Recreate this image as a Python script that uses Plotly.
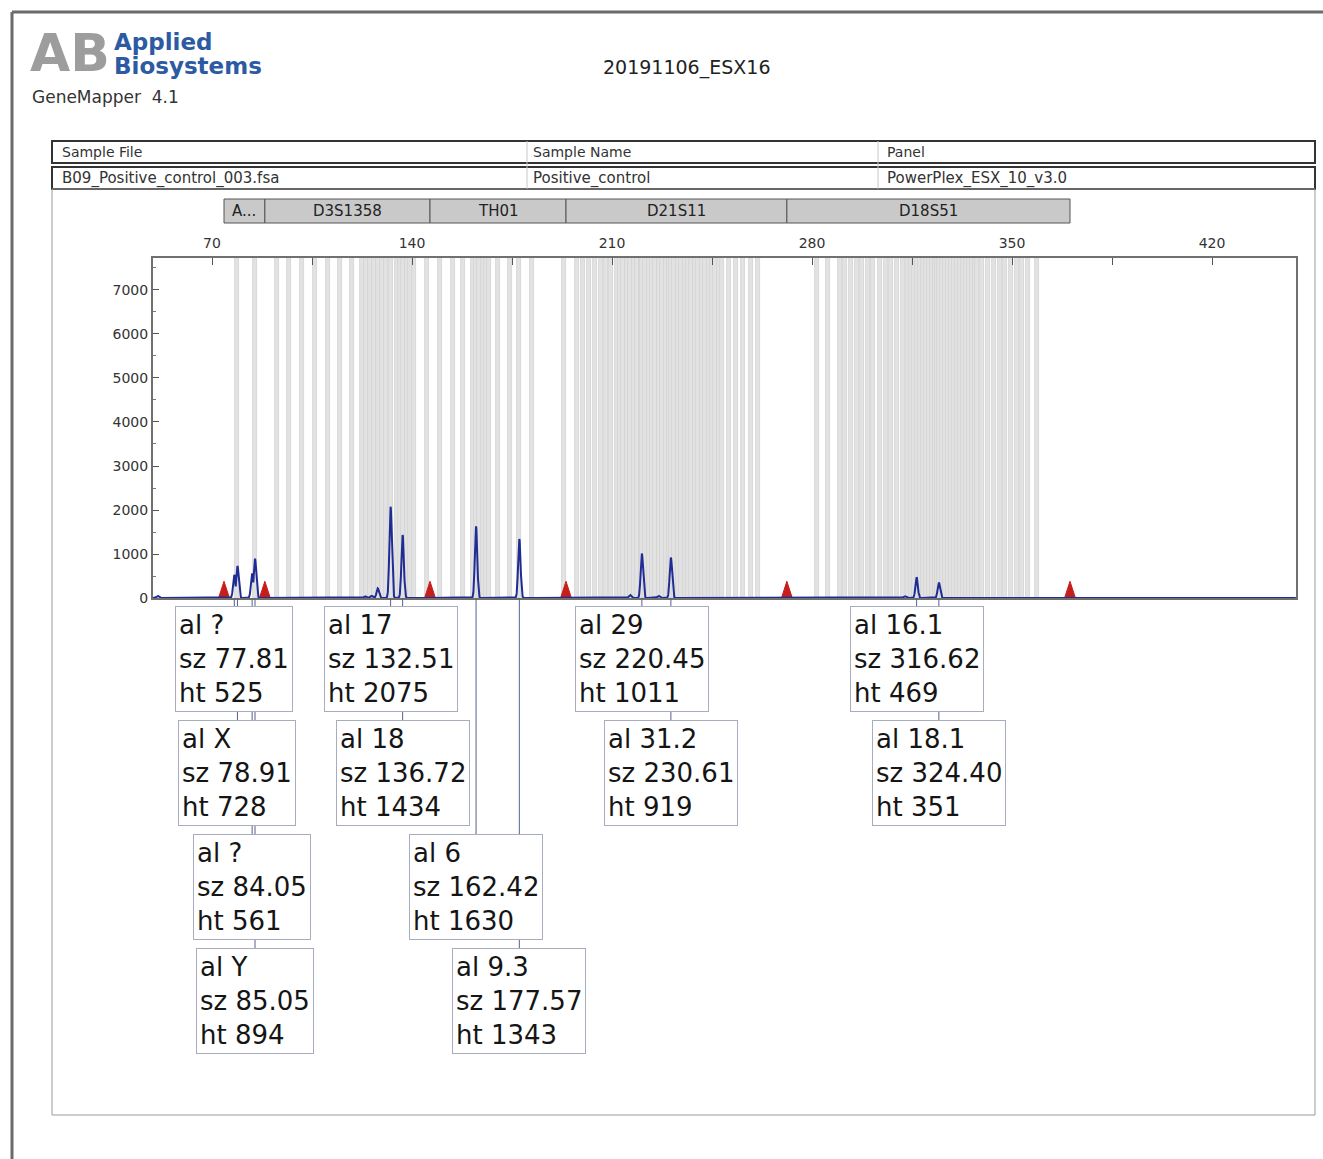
import numpy as np
import plotly.graph_objects as go

# ---------------- data ----------------
run_name = "20191106_ESX16"
app_name = "GeneMapper  4.1"
brand_line1 = "Applied"
brand_line2 = "Biosystems"
table_headers = ["Sample File", "Sample Name", "Panel"]
table_values = ["B09_Positive_control_003.fsa", "Positive_control", "PowerPlex_ESX_10_v3.0"]

loci = ["A...", "D3S1358", "TH01", "D21S11", "D18S51"]
locus_edges = [74.2, 88.5, 146.3, 193.9, 271.2, 370.3]
edge_marker_heights = [380, 380, 380, 380, 380, 380]

peak_sizes = [77.81, 78.91, 84.05, 85.05, 132.51, 136.72, 162.42, 177.57, 220.45, 230.61, 316.62, 324.40]
peak_heights = [525, 728, 561, 894, 2075, 1434, 1630, 1343, 1011, 919, 469, 351]
peak_alleles = ["?", "X", "?", "Y", "17", "18", "6", "9.3", "29", "31.2", "16.1", "18.1"]

minor_sizes = [51.0, 123.6, 125.9, 128.0, 216.3, 226.3, 312.5]
minor_heights = [50, 40, 50, 220, 70, 50, 40]

bins_amel = [78.9, 85.0]
bins_d3 = [92.6, 97.1, 101.4, 106.0, 110.5, 114.8, 118.9, 122.6, 123.9, 125.2, 126.6,
           128.0, 129.4, 130.8, 132.5, 134.6, 135.8, 136.9, 138.1, 139.4, 140.6]
bins_th01 = [145.1, 149.8, 154.5, 158.0, 161.4, 162.5, 163.6, 164.8, 165.9, 167.1,
             170.2, 174.3, 177.6, 181.9]
bins_d21 = [193.2, 197.9, 200.0, 202.0, 204.0, 206.0, 207.9, 209.8, 211.7, 212.9, 214.0,
            215.2, 216.4, 217.6, 218.8, 220.0, 220.5, 221.6, 222.8, 224.0, 225.2, 226.4,
            227.6, 228.8, 230.0, 230.6, 231.8, 233.0, 234.2, 235.4, 236.6, 237.8, 239.0,
            240.2, 241.4, 242.6, 243.8, 245.0, 246.2, 247.3, 248.6, 251.0, 253.5, 256.0,
            258.6, 261.1]
bins_d18 = [281.7, 285.7, 289.8, 291.7, 293.7, 295.6, 297.6, 299.5, 301.4, 303.8, 305.8,
            307.8, 309.9, 311.9, 313.6, 314.6, 315.7, 316.7, 317.7, 318.8, 319.8, 320.8,
            321.9, 322.9, 323.9, 324.5, 325.6, 326.6, 327.7, 328.7, 329.7, 330.8, 331.8,
            332.8, 333.9, 334.9, 335.9, 337.0, 337.8, 339.5, 341.6, 343.6, 345.7, 347.7,
            349.8, 351.8, 353.6, 355.5, 358.6]

x_tick_vals = [70, 140, 210, 280, 350, 420]
y_tick_vals = [0, 1000, 2000, 3000, 4000, 5000, 6000, 7000]

# ---------------- layout helpers ----------------
W, H = 1323, 1159
L, R, T, B = 153, 1296, 258, 598
XR = [49.35, 449.4]
YR = [0, 7727]
FONT = "DejaVu Sans"


def fx(p):
    return (p - L) / (R - L)


def fy(p):
    return (B - p) / (B - T)


fig = go.Figure()

# allele bins
all_bins = bins_amel + bins_d3 + bins_th01 + bins_d21 + bins_d18
fig.add_trace(go.Bar(
    x=all_bins, y=[YR[1]] * len(all_bins), width=1.4,
    marker=dict(color="#e2e2e2", line=dict(color="#d2d2d2", width=0.8)),
    hoverinfo="skip", showlegend=False))

# red locus edge markers
tx, ty = [], []
for e, h in zip(locus_edges, edge_marker_heights):
    tx += [e - 1.9, e, e + 1.9, None]
    ty += [0, h, 0, None]
fig.add_trace(go.Scatter(x=tx, y=ty, mode="lines", fill="toself",
                         fillcolor="#c61f1b", line=dict(color="#c61f1b", width=1),
                         hoverinfo="skip", showlegend=False))

# electropherogram trace
xs = np.arange(XR[0], XR[1], 0.05)
ys = np.zeros_like(xs)
for s, h in zip(peak_sizes + minor_sizes, peak_heights + minor_heights):
    ys = np.maximum(ys, h * np.exp(-0.5 * ((xs - s) / 0.42) ** 2))
fig.add_trace(go.Scatter(x=xs, y=ys, mode="lines",
                         line=dict(color="#1f2c94", width=2),
                         hoverinfo="skip", showlegend=False))

shapes = []
ann = []

# outer frame
shapes.append(dict(type="line", xref="paper", yref="paper", x0=fx(12), x1=fx(1323),
                   y0=fy(12), y1=fy(12), line=dict(color="#6b6b6b", width=3)))
shapes.append(dict(type="line", xref="paper", yref="paper", x0=fx(12), x1=fx(12),
                   y0=fy(12), y1=fy(1159), line=dict(color="#6b6b6b", width=3)))

# header table
for (y0, y1) in [(141, 163), (167, 189)]:
    shapes.append(dict(type="rect", xref="paper", yref="paper", x0=fx(52), x1=fx(1315),
                       y0=fy(y1), y1=fy(y0), line=dict(color="#333333", width=2)))
for xd in [527, 878]:
    shapes.append(dict(type="line", xref="paper", yref="paper", x0=fx(xd), x1=fx(xd),
                       y0=fy(189), y1=fy(141), line=dict(color="#c8c8c8", width=1)))
col_x = [60, 531, 885]
for cx, hd, val in zip(col_x, table_headers, table_values):
    ann.append(dict(xref="paper", yref="paper", x=fx(cx), y=fy(152), text=hd,
                    showarrow=False, xanchor="left", yanchor="middle",
                    font=dict(family=FONT, size=14, color="#333333")))
    ann.append(dict(xref="paper", yref="paper", x=fx(cx), y=fy(179), text=val,
                    showarrow=False, xanchor="left", yanchor="middle",
                    font=dict(family=FONT, size=15, color="#333333")))

# plot panel frame
shapes.append(dict(type="rect", xref="paper", yref="paper", x0=fx(52), x1=fx(1315),
                   y0=fy(1115), y1=fy(189), line=dict(color="#9a9a9a", width=1)))

# locus bar
for i, name in enumerate(loci):
    a, b = locus_edges[i], locus_edges[i + 1]
    shapes.append(dict(type="rect", xref="x", yref="paper", x0=a, x1=b,
                       y0=fy(223), y1=fy(199), fillcolor="#c9c9c9",
                       line=dict(color="#555555", width=1)))
    ann.append(dict(xref="x", yref="paper", x=(a + b) / 2, y=fy(211), text=name,
                    showarrow=False, xanchor="center", yanchor="middle",
                    font=dict(family=FONT, size=15, color="#222222")))

# logo and titles
ann.append(dict(xref="paper", yref="paper", x=fx(28), y=fy(53), text="<b>AB</b>",
                showarrow=False, xanchor="left", yanchor="middle",
                font=dict(family=FONT, size=52, color="#9d9d9d")))
ann.append(dict(xref="paper", yref="paper", x=fx(112), y=fy(42), text="<b>" + brand_line1 + "</b>",
                showarrow=False, xanchor="left", yanchor="middle",
                font=dict(family=FONT, size=23, color="#2c5aa3")))
ann.append(dict(xref="paper", yref="paper", x=fx(112), y=fy(66), text="<b>" + brand_line2 + "</b>",
                showarrow=False, xanchor="left", yanchor="middle",
                font=dict(family=FONT, size=23, color="#2c5aa3")))
ann.append(dict(xref="paper", yref="paper", x=fx(30), y=fy(97), text=app_name,
                showarrow=False, xanchor="left", yanchor="middle",
                font=dict(family=FONT, size=17, color="#333333")))
ann.append(dict(xref="paper", yref="paper", x=fx(686), y=fy(67), text=run_name,
                showarrow=False, xanchor="center", yanchor="middle",
                font=dict(family=FONT, size=19, color="#222222")))

# peak labels: greedy stacking into rows
label_span_bp = 50
rows = []
row_of = []
for s in peak_sizes:
    r = 0
    while r < len(rows) and any(abs(s - o) < label_span_bp for o in rows[r]):
        r += 1
    while len(rows) <= r:
        rows.append([])
    rows[r].append(s)
    row_of.append(r)

order = sorted(range(len(peak_sizes)), key=lambda i: -row_of[i])
for i in order:
    txt = "al %s<br>sz %.2f<br>ht %d" % (peak_alleles[i], peak_sizes[i], peak_heights[i])
    ann.append(dict(xref="x", yref="y", x=peak_sizes[i], y=0, text=txt,
                    showarrow=True, arrowhead=0, arrowwidth=1, arrowcolor="#56618e",
                    axref="pixel", ayref="pixel", ax=0, ay=8 + 114 * row_of[i],
                    xanchor="center", yanchor="top", align="left",
                    bgcolor="white", bordercolor="#a7adbf", borderwidth=1, borderpad=3,
                    font=dict(family=FONT, size=26, color="#151515")))

fig.update_layout(
    width=W, height=H,
    margin=dict(l=L, r=W - R, t=T, b=H - B, pad=0),
    paper_bgcolor="white", plot_bgcolor="white",
    barmode="overlay", bargap=0,
    showlegend=False,
    shapes=shapes, annotations=ann,
    font=dict(family=FONT, color="#333333"),
    xaxis=dict(range=XR, side="top", tickmode="array", tickvals=x_tick_vals,
               ticks="inside", ticklen=7, tickcolor="#555555", tickwidth=1,
               minor=dict(dtick=35, tick0=0, ticks="inside", ticklen=7, tickcolor="#555555"),
               showgrid=False, zeroline=False, showline=True, mirror=True,
               linecolor="#707070", linewidth=2, ticklabelstandoff=2,
               tickfont=dict(family=FONT, size=14, color="#333333")),
    yaxis=dict(range=YR, tickmode="array", tickvals=y_tick_vals,
               ticks="inside", ticklen=6, tickcolor="#555555",
               minor=dict(dtick=500, tick0=0, ticks="inside", ticklen=3, tickcolor="#777777"),
               showgrid=False, zeroline=False, showline=True, mirror=True,
               linecolor="#707070", linewidth=2,
               tickfont=dict(family=FONT, size=14, color="#333333")),
)

fig.write_html("out.html")
